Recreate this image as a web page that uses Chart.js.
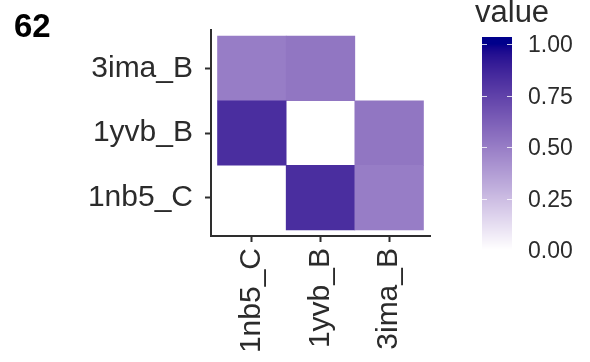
<!DOCTYPE html>
<html>
<head>
<meta charset="utf-8">
<script src="https://cdn.jsdelivr.net/npm/chart.js@4.4.1/dist/chart.umd.min.js"></script>
<style>
  body { margin: 0; background: #fff; }
  canvas { display: block; }
</style>
</head>
<body>
<canvas id="heat" width="590" height="362"></canvas>
<script>
// categories (bottom to top for rows)
const xLabels = ['1nb5_C', '1yvb_B', '3ima_B'];
const yLabels = ['1nb5_C', '1yvb_B', '3ima_B'];

// values per row, one entry per x category (null = no tile)
const row1nb5_C = [null, 0.83, 0.50];
const row1yvb_B = [0.83, null, 0.53];
const row3ima_B = [0.50, 0.53, null];

const legendTicks = [0, 0.25, 0.5, 0.75, 1];
const panelLabel = '62';
const legendTitle = 'value';

// white -> darkblue, interpolated in Lab like ggplot does
function toLab(hex) {
    const c = [1, 3, 5].map(i => parseInt(hex.substr(i, 2), 16) / 255)
        .map(v => v <= 0.04045 ? v / 12.92 : Math.pow((v + 0.055) / 1.055, 2.4));
    const X = (0.4124 * c[0] + 0.3576 * c[1] + 0.1805 * c[2]) / 0.95047;
    const Y = (0.2126 * c[0] + 0.7152 * c[1] + 0.0722 * c[2]);
    const Z = (0.0193 * c[0] + 0.1192 * c[1] + 0.9505 * c[2]) / 1.08883;
    const f = t => t > 0.008856 ? Math.cbrt(t) : 7.787 * t + 16 / 116;
    return [116 * f(Y) - 16, 500 * (f(X) - f(Y)), 200 * (f(Y) - f(Z))];
}
function fromLab(L, a, b) {
    const fy = (L + 16) / 116, fx = fy + a / 500, fz = fy - b / 200;
    const inv = t => t * t * t > 0.008856 ? t * t * t : (t - 16 / 116) / 7.787;
    const X = 0.95047 * inv(fx), Y = inv(fy), Z = 1.08883 * inv(fz);
    let r = 3.2406 * X - 1.5372 * Y - 0.4986 * Z;
    let g = -0.9689 * X + 1.8758 * Y + 0.0415 * Z;
    let bl = 0.0557 * X - 0.2040 * Y + 1.0570 * Z;
    const s = v => {
        v = v <= 0.0031308 ? 12.92 * v : 1.055 * Math.pow(v, 1 / 2.4) - 0.055;
        return Math.round(Math.min(1, Math.max(0, v)) * 255);
    };
    return 'rgb(' + s(r) + ',' + s(g) + ',' + s(bl) + ')';
}
const lowLab = toLab('#ffffff');
const highLab = toLab('#00008b');
function fillColor(t) {
    return fromLab(
        lowLab[0] + (highLab[0] - lowLab[0]) * t,
        lowLab[1] + (highLab[1] - lowLab[1]) * t,
        lowLab[2] + (highLab[2] - lowLab[2]) * t);
}

const rows = [row1nb5_C, row1yvb_B, row3ima_B];
const datasets = rows.map((vals, r) => {
    const pts = [], cols = [];
    vals.forEach((v, c) => {
        if (v === null) return;
        pts.push({ x: c + 1, y: [r + 0.5, r + 1.5] });
        cols.push(fillColor(v));
    });
    return {
        label: yLabels[r],
        data: pts,
        backgroundColor: cols,
        borderWidth: 0,
        barPercentage: 1,
        categoryPercentage: 1,
        grouped: false
    };
});

const textColor = '#2b2b2b';
const axisColor = '#2e2e2e';
const tickFont = { family: 'Liberation Sans', size: 30 };

// colour bar legend + panel label
const extras = {
    id: 'extras',
    afterDraw(chart) {
        const ctx = chart.ctx;
        const barL = 482, barW = 30, y1 = 44, y0 = 250;
        const top = 37, bottom = 257;
        for (let y = top; y < bottom; y++) {
            let t = (y0 - (y + 0.5)) / (y0 - y1);
            t = Math.min(1, Math.max(0, t));
            ctx.fillStyle = fillColor(t);
            ctx.fillRect(barL, y, barW, 1);
        }
        ctx.strokeStyle = 'rgba(255,255,255,0.8)';
        ctx.lineWidth = 1;
        ctx.font = '23px "Liberation Sans"';
        ctx.fillStyle = textColor;
        ctx.textBaseline = 'middle';
        ctx.textAlign = 'left';
        legendTicks.forEach(v => {
            const y = Math.round(y0 - (y0 - y1) * v) + 0.5;
            ctx.beginPath();
            ctx.moveTo(barL, y); ctx.lineTo(barL + 5, y);
            ctx.moveTo(barL + barW - 5, y); ctx.lineTo(barL + barW, y);
            ctx.stroke();
            ctx.fillText(v.toFixed(2), 528, y + 1);
        });
        ctx.textBaseline = 'alphabetic';
        ctx.font = '31px "Liberation Sans"';
        ctx.fillText(legendTitle, 475, 22);
        ctx.fillStyle = '#000';
        ctx.font = 'bold 33px "Liberation Sans"';
        ctx.fillText(panelLabel, 14, 37);
    }
};

new Chart(document.getElementById('heat').getContext('2d'), {
    type: 'bar',
    data: { datasets: datasets },
    plugins: [extras],
    options: {
        responsive: false,
        animation: false,
        layout: { padding: { left: 0, right: 160, top: 16, bottom: 0 } },
        plugins: { legend: { display: false }, tooltip: { enabled: false } },
        scales: {
            x: {
                type: 'linear',
                offset: false,
                min: 0.405,
                max: 3.595,
                afterBuildTicks: s => { s.ticks = [1, 2, 3].map(v => ({ value: v })); },
                afterFit: s => { s.height = 126; },
                ticks: {
                    callback: (v, i) => xLabels[i],
                    minRotation: 90,
                    maxRotation: 90,
                    autoSkip: false,
                    padding: 6,
                    color: textColor,
                    font: tickFont
                },
                grid: { offset: false, drawOnChartArea: false, tickLength: 6, tickColor: axisColor, tickWidth: 2 },
                border: { color: axisColor, width: 2 }
            },
            y: {
                type: 'linear',
                min: 0.405,
                max: 3.595,
                afterBuildTicks: s => { s.ticks = [1, 2, 3].map(v => ({ value: v })); },
                afterFit: s => { s.width = 211; },
                ticks: {
                    callback: (v, i) => yLabels[i],
                    autoSkip: false,
                    padding: 12,
                    color: textColor,
                    font: tickFont
                },
                grid: { drawOnChartArea: false, tickLength: 6, tickColor: axisColor, tickWidth: 2 },
                border: { color: axisColor, width: 2 }
            }
        }
    }
});
</script>
</body>
</html>
